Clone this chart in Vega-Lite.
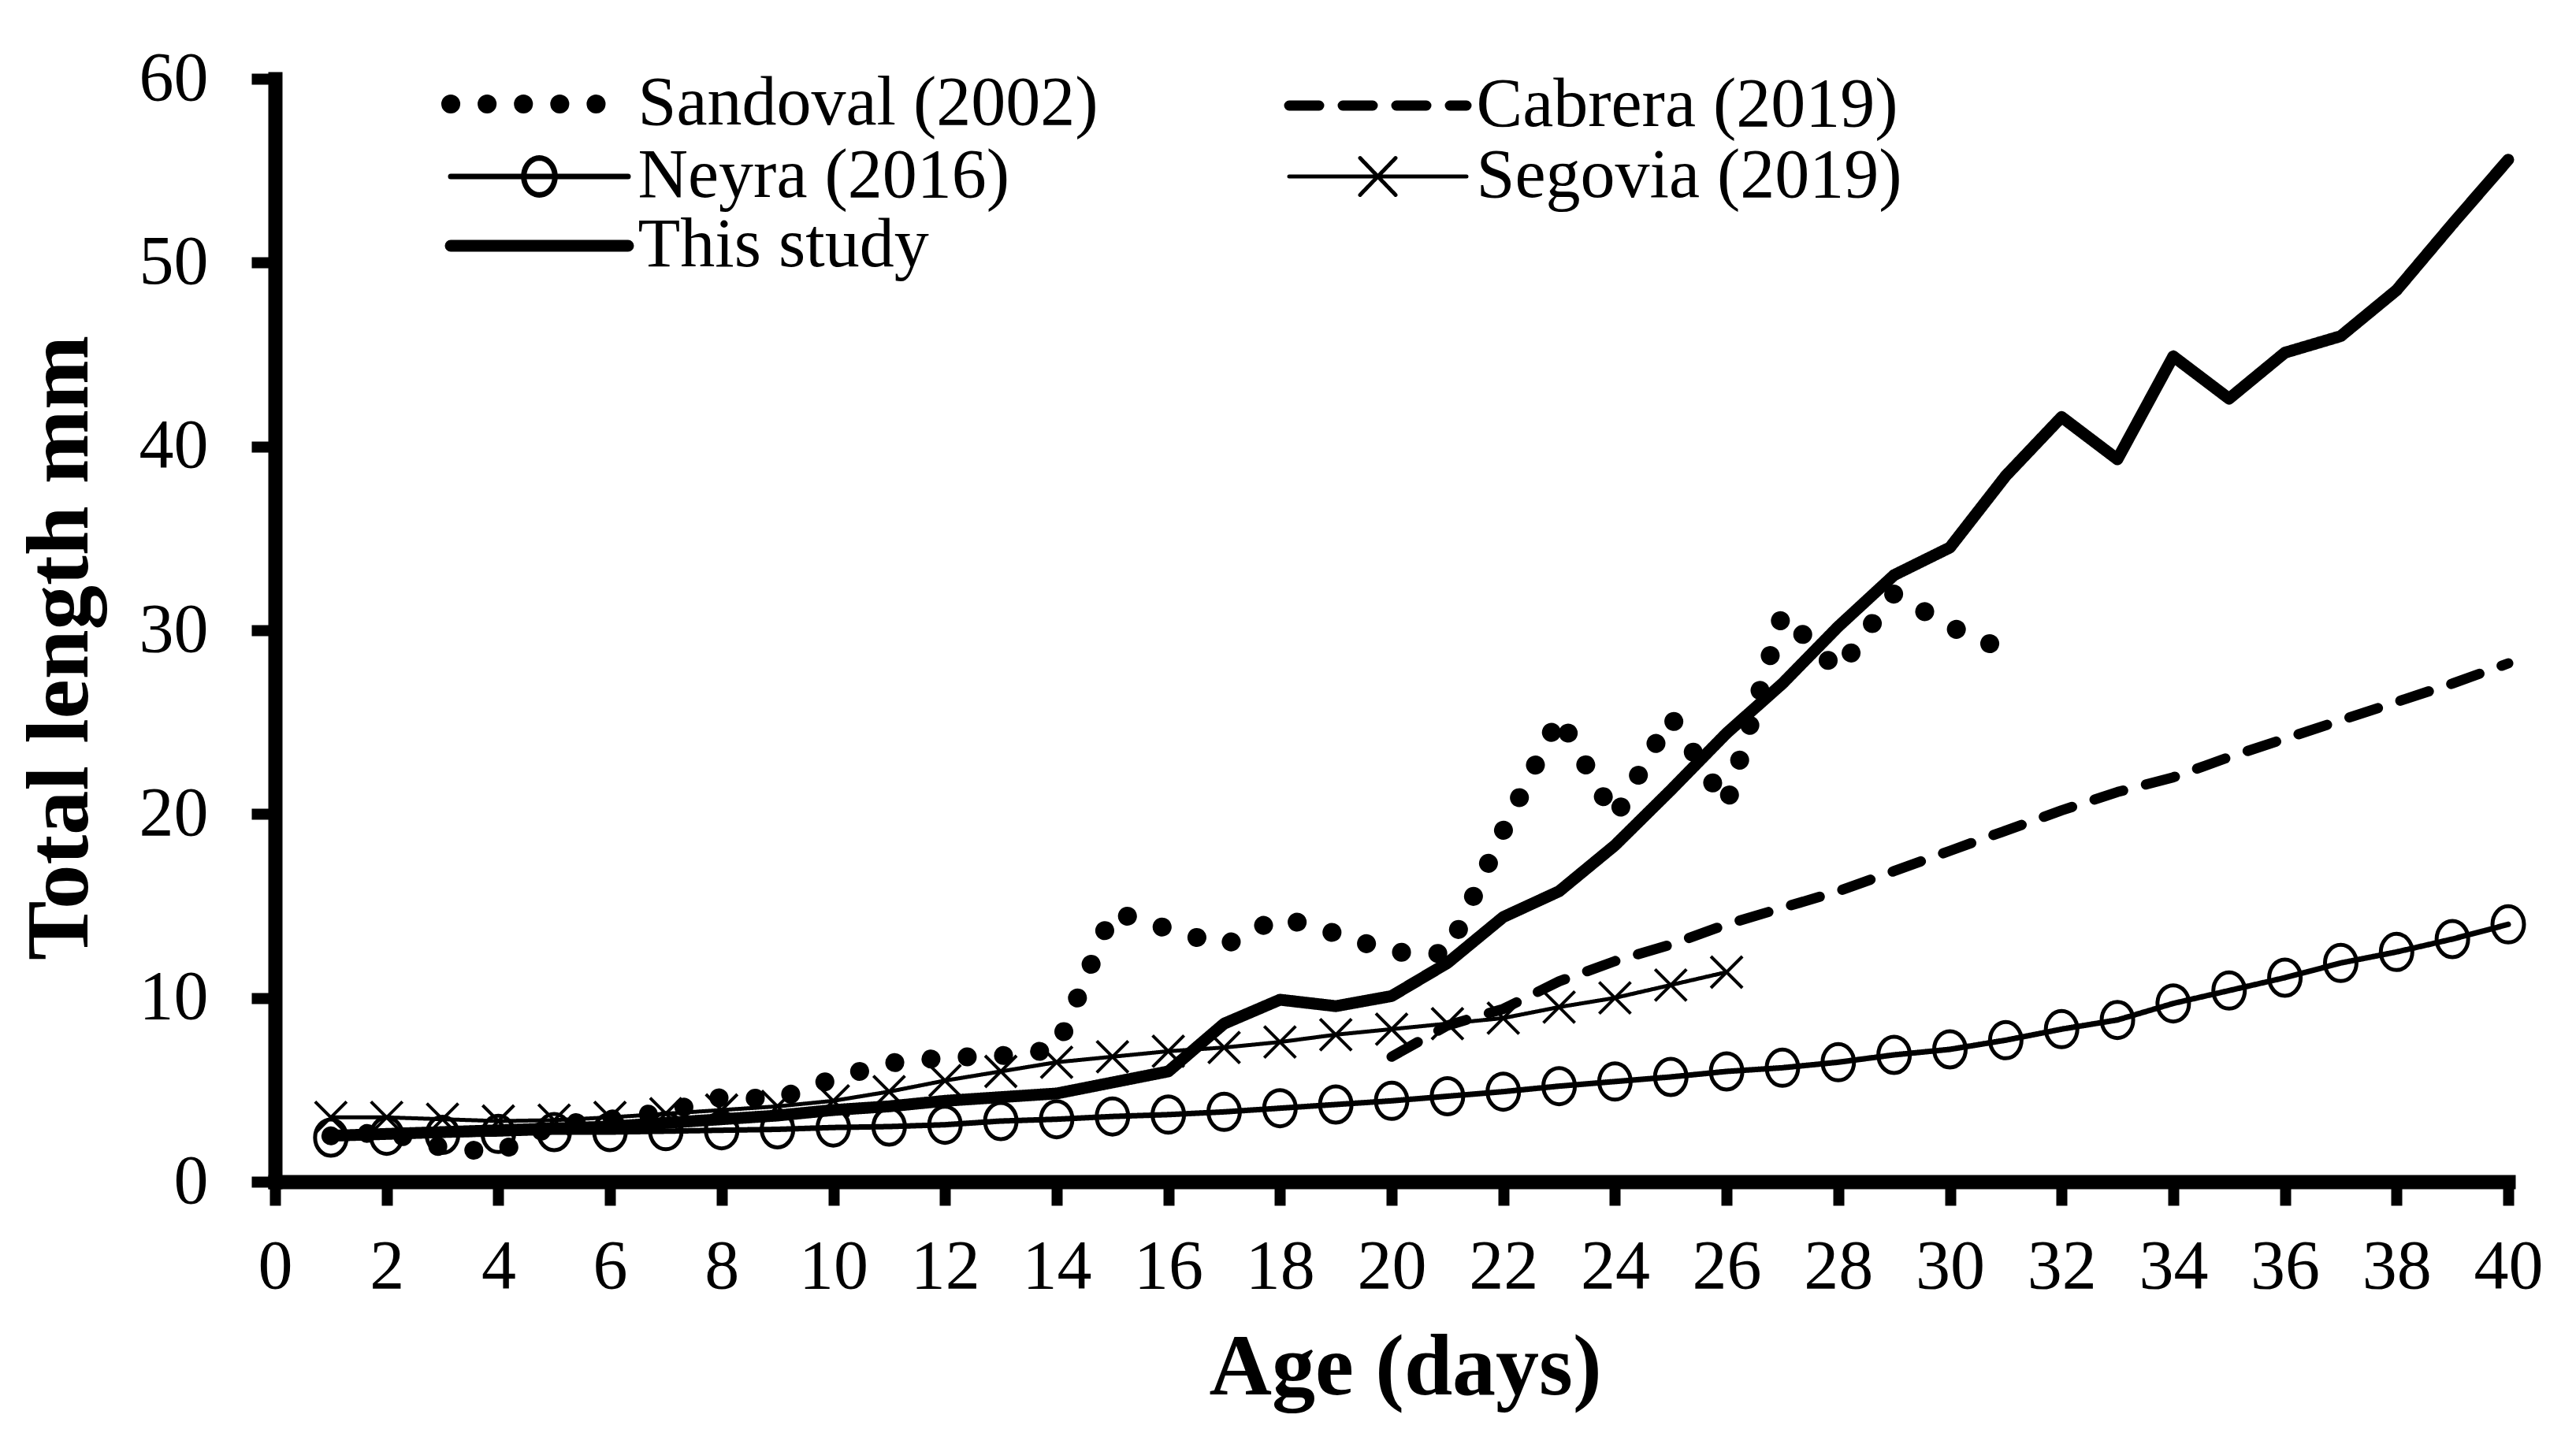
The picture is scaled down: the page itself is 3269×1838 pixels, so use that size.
{
  "$schema": "https://vega.github.io/schema/vega-lite/v6.json",
  "width": 2834,
  "height": 1400,
  "autosize": {"type": "none"},
  "padding": {"left": 349, "top": 100, "right": 86, "bottom": 338},
  "background": "white",
  "config": {"view": {"stroke": null}, "font": "Liberation Serif"},
  "data": {"values": [
    {"series": "Sandoval (2002)", "day": 1, "length": 2.5},
    {"series": "Sandoval (2002)", "day": 2, "length": 2.7},
    {"series": "Sandoval (2002)", "day": 3, "length": 1.85},
    {"series": "Sandoval (2002)", "day": 4, "length": 1.6},
    {"series": "Sandoval (2002)", "day": 5, "length": 3.1},
    {"series": "Sandoval (2002)", "day": 6, "length": 3.4},
    {"series": "Sandoval (2002)", "day": 7, "length": 3.8},
    {"series": "Sandoval (2002)", "day": 8, "length": 4.6},
    {"series": "Sandoval (2002)", "day": 9, "length": 4.5},
    {"series": "Sandoval (2002)", "day": 10, "length": 5.6},
    {"series": "Sandoval (2002)", "day": 11, "length": 6.45},
    {"series": "Sandoval (2002)", "day": 12, "length": 6.75},
    {"series": "Sandoval (2002)", "day": 13, "length": 6.85},
    {"series": "Sandoval (2002)", "day": 14, "length": 7.2},
    {"series": "Sandoval (2002)", "day": 15, "length": 14.7},
    {"series": "Sandoval (2002)", "day": 16, "length": 13.75},
    {"series": "Sandoval (2002)", "day": 17, "length": 12.85},
    {"series": "Sandoval (2002)", "day": 18, "length": 14.4},
    {"series": "Sandoval (2002)", "day": 19, "length": 13.5},
    {"series": "Sandoval (2002)", "day": 20, "length": 12.5},
    {"series": "Sandoval (2002)", "day": 21, "length": 12.4},
    {"series": "Sandoval (2002)", "day": 22, "length": 19.1},
    {"series": "Sandoval (2002)", "day": 23, "length": 25.3},
    {"series": "Sandoval (2002)", "day": 24, "length": 19.8},
    {"series": "Sandoval (2002)", "day": 25, "length": 25.3},
    {"series": "Sandoval (2002)", "day": 26, "length": 20.5},
    {"series": "Sandoval (2002)", "day": 27, "length": 30.9},
    {"series": "Sandoval (2002)", "day": 28, "length": 27.8},
    {"series": "Sandoval (2002)", "day": 29, "length": 32.0},
    {"series": "Sandoval (2002)", "day": 30, "length": 30.2},
    {"series": "Sandoval (2002)", "day": 31, "length": 28.9},
    {"series": "Cabrera (2019)", "day": 20, "length": 6.8},
    {"series": "Cabrera (2019)", "day": 21, "length": 8.5},
    {"series": "Cabrera (2019)", "day": 22, "length": 9.4},
    {"series": "Cabrera (2019)", "day": 23, "length": 10.9},
    {"series": "Cabrera (2019)", "day": 24, "length": 12.0},
    {"series": "Cabrera (2019)", "day": 25, "length": 12.9},
    {"series": "Cabrera (2019)", "day": 26, "length": 14.0},
    {"series": "Cabrera (2019)", "day": 27, "length": 14.9},
    {"series": "Cabrera (2019)", "day": 28, "length": 15.8},
    {"series": "Cabrera (2019)", "day": 29, "length": 16.9},
    {"series": "Cabrera (2019)", "day": 30, "length": 18.0},
    {"series": "Cabrera (2019)", "day": 31, "length": 19.1},
    {"series": "Cabrera (2019)", "day": 32, "length": 20.2},
    {"series": "Cabrera (2019)", "day": 33, "length": 21.2},
    {"series": "Cabrera (2019)", "day": 34, "length": 22.0},
    {"series": "Cabrera (2019)", "day": 35, "length": 23.1},
    {"series": "Cabrera (2019)", "day": 36, "length": 24.1},
    {"series": "Cabrera (2019)", "day": 37, "length": 25.1},
    {"series": "Cabrera (2019)", "day": 38, "length": 26.1},
    {"series": "Cabrera (2019)", "day": 39, "length": 27.1},
    {"series": "Cabrera (2019)", "day": 40, "length": 28.2},
    {"series": "Neyra (2016)", "day": 1, "length": 2.4},
    {"series": "Neyra (2016)", "day": 2, "length": 2.5},
    {"series": "Neyra (2016)", "day": 3, "length": 2.55},
    {"series": "Neyra (2016)", "day": 4, "length": 2.6},
    {"series": "Neyra (2016)", "day": 5, "length": 2.7},
    {"series": "Neyra (2016)", "day": 6, "length": 2.7},
    {"series": "Neyra (2016)", "day": 7, "length": 2.75},
    {"series": "Neyra (2016)", "day": 8, "length": 2.8},
    {"series": "Neyra (2016)", "day": 9, "length": 2.85},
    {"series": "Neyra (2016)", "day": 10, "length": 2.95},
    {"series": "Neyra (2016)", "day": 11, "length": 3.0},
    {"series": "Neyra (2016)", "day": 12, "length": 3.1},
    {"series": "Neyra (2016)", "day": 13, "length": 3.3},
    {"series": "Neyra (2016)", "day": 14, "length": 3.4},
    {"series": "Neyra (2016)", "day": 15, "length": 3.55},
    {"series": "Neyra (2016)", "day": 16, "length": 3.65},
    {"series": "Neyra (2016)", "day": 17, "length": 3.8},
    {"series": "Neyra (2016)", "day": 18, "length": 4.0},
    {"series": "Neyra (2016)", "day": 19, "length": 4.2},
    {"series": "Neyra (2016)", "day": 20, "length": 4.4},
    {"series": "Neyra (2016)", "day": 21, "length": 4.65},
    {"series": "Neyra (2016)", "day": 22, "length": 4.9},
    {"series": "Neyra (2016)", "day": 23, "length": 5.2},
    {"series": "Neyra (2016)", "day": 24, "length": 5.45},
    {"series": "Neyra (2016)", "day": 25, "length": 5.7},
    {"series": "Neyra (2016)", "day": 26, "length": 6.0},
    {"series": "Neyra (2016)", "day": 27, "length": 6.2},
    {"series": "Neyra (2016)", "day": 28, "length": 6.5},
    {"series": "Neyra (2016)", "day": 29, "length": 6.9},
    {"series": "Neyra (2016)", "day": 30, "length": 7.2},
    {"series": "Neyra (2016)", "day": 31, "length": 7.7},
    {"series": "Neyra (2016)", "day": 32, "length": 8.3},
    {"series": "Neyra (2016)", "day": 33, "length": 8.8},
    {"series": "Neyra (2016)", "day": 34, "length": 9.7},
    {"series": "Neyra (2016)", "day": 35, "length": 10.4},
    {"series": "Neyra (2016)", "day": 36, "length": 11.1},
    {"series": "Neyra (2016)", "day": 37, "length": 11.9},
    {"series": "Neyra (2016)", "day": 38, "length": 12.5},
    {"series": "Neyra (2016)", "day": 39, "length": 13.2},
    {"series": "Neyra (2016)", "day": 40, "length": 14.0},
    {"series": "Segovia (2019)", "day": 1, "length": 3.5},
    {"series": "Segovia (2019)", "day": 2, "length": 3.5},
    {"series": "Segovia (2019)", "day": 3, "length": 3.4},
    {"series": "Segovia (2019)", "day": 4, "length": 3.3},
    {"series": "Segovia (2019)", "day": 5, "length": 3.35},
    {"series": "Segovia (2019)", "day": 6, "length": 3.5},
    {"series": "Segovia (2019)", "day": 7, "length": 3.7},
    {"series": "Segovia (2019)", "day": 8, "length": 3.9},
    {"series": "Segovia (2019)", "day": 9, "length": 4.1},
    {"series": "Segovia (2019)", "day": 10, "length": 4.4},
    {"series": "Segovia (2019)", "day": 11, "length": 4.9},
    {"series": "Segovia (2019)", "day": 12, "length": 5.5},
    {"series": "Segovia (2019)", "day": 13, "length": 6.0},
    {"series": "Segovia (2019)", "day": 14, "length": 6.5},
    {"series": "Segovia (2019)", "day": 15, "length": 6.8},
    {"series": "Segovia (2019)", "day": 16, "length": 7.1},
    {"series": "Segovia (2019)", "day": 17, "length": 7.3},
    {"series": "Segovia (2019)", "day": 18, "length": 7.6},
    {"series": "Segovia (2019)", "day": 19, "length": 8.0},
    {"series": "Segovia (2019)", "day": 20, "length": 8.3},
    {"series": "Segovia (2019)", "day": 21, "length": 8.6},
    {"series": "Segovia (2019)", "day": 22, "length": 8.9},
    {"series": "Segovia (2019)", "day": 23, "length": 9.5},
    {"series": "Segovia (2019)", "day": 24, "length": 10.0},
    {"series": "Segovia (2019)", "day": 25, "length": 10.7},
    {"series": "Segovia (2019)", "day": 26, "length": 11.4},
    {"series": "This study", "day": 1, "length": 2.5},
    {"series": "This study", "day": 2, "length": 2.6},
    {"series": "This study", "day": 3, "length": 2.7},
    {"series": "This study", "day": 4, "length": 2.8},
    {"series": "This study", "day": 5, "length": 2.9},
    {"series": "This study", "day": 6, "length": 3.0},
    {"series": "This study", "day": 7, "length": 3.2},
    {"series": "This study", "day": 8, "length": 3.4},
    {"series": "This study", "day": 9, "length": 3.6},
    {"series": "This study", "day": 10, "length": 3.9},
    {"series": "This study", "day": 11, "length": 4.1},
    {"series": "This study", "day": 12, "length": 4.4},
    {"series": "This study", "day": 13, "length": 4.6},
    {"series": "This study", "day": 14, "length": 4.8},
    {"series": "This study", "day": 15, "length": 5.4},
    {"series": "This study", "day": 16, "length": 6.0},
    {"series": "This study", "day": 17, "length": 8.6},
    {"series": "This study", "day": 18, "length": 9.9},
    {"series": "This study", "day": 19, "length": 9.55},
    {"series": "This study", "day": 20, "length": 10.1},
    {"series": "This study", "day": 21, "length": 11.9},
    {"series": "This study", "day": 22, "length": 14.4},
    {"series": "This study", "day": 23, "length": 15.8},
    {"series": "This study", "day": 24, "length": 18.3},
    {"series": "This study", "day": 25, "length": 21.3},
    {"series": "This study", "day": 26, "length": 24.4},
    {"series": "This study", "day": 27, "length": 27.1},
    {"series": "This study", "day": 28, "length": 30.2},
    {"series": "This study", "day": 29, "length": 33.0},
    {"series": "This study", "day": 30, "length": 34.5},
    {"series": "This study", "day": 31, "length": 38.4},
    {"series": "This study", "day": 32, "length": 41.6},
    {"series": "This study", "day": 33, "length": 39.3},
    {"series": "This study", "day": 34, "length": 44.9},
    {"series": "This study", "day": 35, "length": 42.6},
    {"series": "This study", "day": 36, "length": 45.1},
    {"series": "This study", "day": 37, "length": 46.0},
    {"series": "This study", "day": 38, "length": 48.5},
    {"series": "This study", "day": 39, "length": 52.1},
    {"series": "This study", "day": 40, "length": 55.6}
  ]},
  "encoding": {
    "x": {
      "field": "day", "type": "quantitative",
      "scale": {"domain": [0, 40], "nice": false, "zero": false},
      "axis": {
        "values": [0, 2, 4, 6, 8, 10, 12, 14, 16, 18, 20, 22, 24, 26, 28, 30, 32, 34, 36, 38, 40],
        "title": "Age (days)", "grid": false,
        "domainColor": "black", "domainWidth": 18, "domainCap": "square",
        "tickColor": "black", "tickWidth": 14, "tickSize": 30,
        "labelFont": "Liberation Serif", "labelFontSize": 88, "labelColor": "black",
        "labelPadding": 34, "labelFlush": false, "labelOverlap": false,
        "titleFont": "Liberation Serif", "titleFontSize": 110, "titleFontWeight": "bold",
        "titleColor": "black", "titlePadding": 30, "titleX": 1434
      }
    },
    "y": {
      "field": "length", "type": "quantitative",
      "scale": {"domain": [0, 60], "nice": false},
      "axis": {
        "values": [0, 10, 20, 30, 40, 50, 60],
        "title": "Total length mm", "grid": false,
        "domainColor": "black", "domainWidth": 18, "domainCap": "square",
        "tickColor": "black", "tickWidth": 14, "tickSize": 30,
        "labelFont": "Liberation Serif", "labelFontSize": 88, "labelColor": "black",
        "labelPadding": 55, "labelFlush": false, "labelOverlap": false,
        "titleFont": "Liberation Serif", "titleFontSize": 113, "titleFontWeight": "bold",
        "titleColor": "black", "titlePadding": 42, "titleY": 722
      }
    }
  },
  "layer": [
    {
      "mark": {"type": "line", "color": "black", "strokeCap": "round", "strokeJoin": "round"},
      "encoding": {
        "strokeDash": {
          "field": "series", "type": "nominal",
          "scale": {"domain": ["Sandoval (2002)", "Cabrera (2019)", "Neyra (2016)", "Segovia (2019)", "This study"],
                    "range": [[0.1, 46], [38, 30], [1, 0], [1, 0], [1, 0]]},
          "legend": {
            "title": null, "orient": "none", "legendX": 219, "legendY": -12,
            "direction": "horizontal",
            "columns": 2, "columnPadding": 216, "rowPadding": -22, "padding": 0,
            "symbolType": "M-3.75,0H3.75", "symbolSize": 3600, "symbolOffset": 72.5,
            "labelOffset": 81, "labelFont": "Liberation Serif", "labelFontSize": 88,
            "labelColor": "black", "labelLimit": 0,
            "symbolStrokeColor": "black", "symbolFillColor": "transparent",
            "encode": {"symbols": {"update": {
              "shape": {"signal": "(datum.value === 'Neyra (2016)' ? 'M-3.75,0H3.75M0.66,0A0.66,0.78 0 1,1 -0.66,0A0.66,0.78 0 1,1 0.66,0Z' : datum.value === 'Segovia (2019)' ? 'M-3.75,0H3.75M-0.75,-0.78L0.75,0.78M-0.75,0.78L0.75,-0.78' : 'M-3.75,0H3.75')"},
              "strokeCap": {"value": "round"},
              "stroke": {"value": "black"},
              "fill": {"value": "transparent"}
            }}}
          }
        },
        "strokeWidth": {
          "field": "series", "type": "nominal",
          "scale": {"type": "ordinal", "domain": ["Sandoval (2002)", "Cabrera (2019)", "Neyra (2016)", "Segovia (2019)", "This study"],
                    "range": [24, 13, 7, 5, 15]},
          "legend": {
            "title": null, "orient": "none", "legendX": 219, "legendY": -12,
            "direction": "horizontal",
            "columns": 2, "columnPadding": 216, "rowPadding": -22, "padding": 0,
            "symbolType": "M-3.75,0H3.75", "symbolSize": 3600, "symbolOffset": 72.5,
            "labelOffset": 81, "labelFont": "Liberation Serif", "labelFontSize": 88,
            "labelColor": "black", "labelLimit": 0,
            "symbolStrokeColor": "black", "symbolFillColor": "transparent",
            "encode": {"symbols": {"update": {
              "shape": {"signal": "(datum.value === 'Neyra (2016)' ? 'M-3.75,0H3.75M0.66,0A0.66,0.78 0 1,1 -0.66,0A0.66,0.78 0 1,1 0.66,0Z' : datum.value === 'Segovia (2019)' ? 'M-3.75,0H3.75M-0.75,-0.78L0.75,0.78M-0.75,0.78L0.75,-0.78' : 'M-3.75,0H3.75')"},
              "strokeCap": {"value": "round"},
              "stroke": {"value": "black"},
              "fill": {"value": "transparent"}
            }}}
          }
        }
      }
    },
    {
      "transform": [{"filter": "datum.series === 'Neyra (2016)'"}],
      "mark": {"type": "point", "shape": "M0.87,0A0.87,1 0 1,1 -0.87,0A0.87,1 0 1,1 0.87,0Z",
               "size": 2116, "filled": false, "stroke": "black", "strokeWidth": 5, "opacity": 1}
    },
    {
      "transform": [{"filter": "datum.series === 'Segovia (2019)'"}],
      "mark": {"type": "point", "shape": "M-1,-1L1,1M-1,1L1,-1",
               "size": 1600, "filled": false, "stroke": "black", "strokeWidth": 4, "opacity": 1}
    }
  ]
}
